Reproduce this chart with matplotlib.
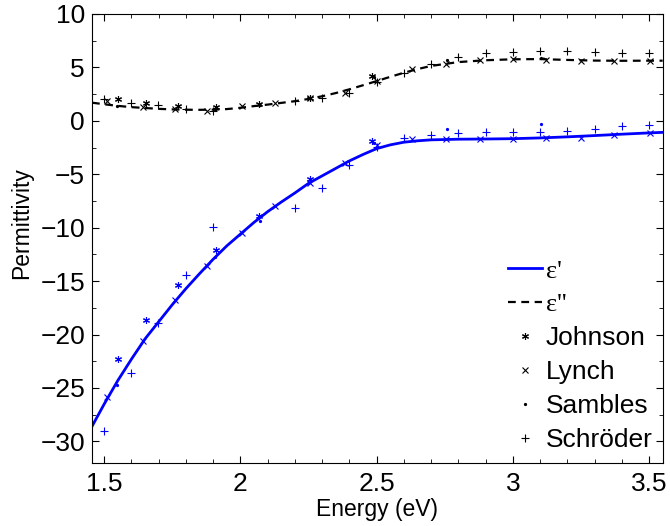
import matplotlib
matplotlib.use("Agg")
import matplotlib.pyplot as plt
from matplotlib.ticker import MultipleLocator, FuncFormatter

plt.rcParams['font.family'] = ['Liberation Sans', 'DejaVu Sans']

# model curves
energy = [1.455, 1.5, 1.55, 1.6, 1.65, 1.7, 1.75, 1.8, 1.85, 1.9, 1.95, 2.0, 2.05,
          2.1, 2.15, 2.2, 2.25, 2.3, 2.35, 2.4, 2.45, 2.5, 2.55, 2.6, 2.65, 2.7,
          2.8, 2.9, 3.0, 3.1, 3.2, 3.3, 3.4, 3.5, 3.55]
eps_re = [-28.6, -26.5, -24.3, -22.3, -20.4, -18.8, -17.2, -15.7, -14.3, -12.95,
          -11.7, -10.6, -9.5, -8.5, -7.6, -6.75, -5.85, -5.15, -4.45, -3.75, -3.15,
          -2.6, -2.25, -2.0, -1.87, -1.78, -1.72, -1.7, -1.67, -1.6, -1.5, -1.38,
          -1.25, -1.13, -1.08]
eps_im = [1.7, 1.55, 1.4, 1.28, 1.2, 1.12, 1.07, 1.04, 1.03, 1.05, 1.1, 1.22, 1.38,
          1.52, 1.68, 1.84, 2.05, 2.3, 2.6, 2.95, 3.33, 3.72, 4.12, 4.5, 4.84, 5.14,
          5.5, 5.67, 5.76, 5.78, 5.7, 5.64, 5.62, 5.63, 5.63]

# measured data sets
johnson_e = [1.551, 1.653, 1.772, 1.909, 2.069, 2.256, 2.483]
johnson_re = [-22.3, -18.6, -15.4, -12.07, -8.9, -5.46, -1.93]
johnson_im = [2.03, 1.65, 1.4, 1.34, 1.56, 2.12, 4.21]

lynch_e = [1.509, 1.643, 1.76, 1.876, 2.005, 2.128, 2.256, 2.385, 2.5,
           2.63, 2.753, 2.881, 3.0, 3.123, 3.25, 3.372, 3.502]
lynch_re = [-25.85, -20.65, -16.75, -13.6, -10.5, -8.0, -5.83, -3.96, -2.3,
            -1.71, -1.71, -1.71, -1.71, -1.62, -1.62, -1.37, -1.15]
lynch_im = [1.81, 1.34, 1.09, 0.94, 1.4, 1.71, 2.1, 2.59, 3.77,
            4.84, 5.33, 5.7, 5.77, 5.7, 5.64, 5.64, 5.64]

sambles_e = [1.546, 1.907, 2.07, 2.49, 2.759, 3.104]
sambles_re = [-24.7, -12.75, -9.4, -2.1, -0.78, -0.28]
sambles_im = [1.4, 1.1, 1.45, 4.1, 5.7, 5.9]

schroder_e = [1.5, 1.598, 1.699, 1.8, 1.9, 2.201, 2.299, 2.4, 2.5, 2.6, 2.7,
              2.8, 2.9, 3.0, 3.1, 3.2, 3.3, 3.4, 3.5]
schroder_re = [-29.0, -23.6, -18.9, -14.4, -9.9, -8.15, -6.3, -4.1, -2.46,
               -1.62, -1.31, -1.15, -1.09, -1.09, -1.09, -0.94, -0.75, -0.53, -0.37]
schroder_im = [2.03, 1.71, 1.5, 1.12, 0.94, 1.81, 2.12, 2.65, 3.6, 4.46, 5.3,
               6.02, 6.33, 6.43, 6.55, 6.55, 6.48, 6.39, 6.39]

fig = plt.figure(figsize=(6.7, 5.26), dpi=100)
ax = fig.add_axes([0.1373, 0.1203, 0.8517, 0.8531])

asterisk = (6, 2, 0)
sets = [
    (johnson_e, johnson_re, johnson_im, asterisk, 5, 'Johnson'),
    (lynch_e, lynch_re, lynch_im, 'x', 4, 'Lynch'),
    (sambles_e, sambles_re, sambles_im, '.', 3, 'Sambles'),
    (schroder_e, schroder_re, schroder_im, '+', 6, 'Schröder'),
]

l1, = ax.plot(energy, eps_re, color='#0000ff', lw=2, label="ε'")
l2, = ax.plot(energy, eps_im, color='black', lw=1.6, ls=(0, (3.5, 2.5)), label="ε''")

handles = [l1, l2]
for e, re_, im_, m, ms, name in sets:
    ax.plot(e, re_, ls='none', marker=m, ms=ms, color='#0000ff', mew=0.8)
    h, = ax.plot(e, im_, ls='none', marker=m, ms=ms, color='black', mew=0.8, label=name)
    handles.append(h)

fmt = FuncFormatter(lambda v, p: f'{v:g}'.replace('-', '\u2212'))

ax.set_xlim(1.455, 3.55)
ax.set_ylim(-32, 10)
ax.xaxis.set_major_locator(MultipleLocator(0.5))
ax.xaxis.set_minor_locator(MultipleLocator(0.1))
ax.yaxis.set_major_locator(MultipleLocator(5))
ax.yaxis.set_minor_locator(MultipleLocator(2.5))
ax.xaxis.set_major_formatter(fmt)
ax.yaxis.set_major_formatter(fmt)
ax.tick_params(which='both', direction='in', top=True, right=True, labelsize=19)
ax.tick_params(which='major', length=5)
ax.tick_params(which='minor', length=3)
ax.tick_params(axis='x', pad=7)
ax.tick_params(axis='y', pad=5)
ax.set_xlabel('Energy (eV)', fontsize=16.5)
ax.set_ylabel('Permittivity', fontsize=16.5)
ax.xaxis.set_label_coords(0.5, -0.078)
ax.yaxis.set_label_coords(-0.103, 0.533)

leg = ax.legend(handles=handles, loc='lower right', bbox_to_anchor=(1.006, -0.006),
                frameon=False, fontsize=19, handlelength=1.3, handletextpad=0.15,
                labelspacing=0.38, borderaxespad=0.1)
for t in leg.get_texts()[:2]:
    t.set_family('Liberation Serif')

fig.savefig('out.png', dpi=100)
